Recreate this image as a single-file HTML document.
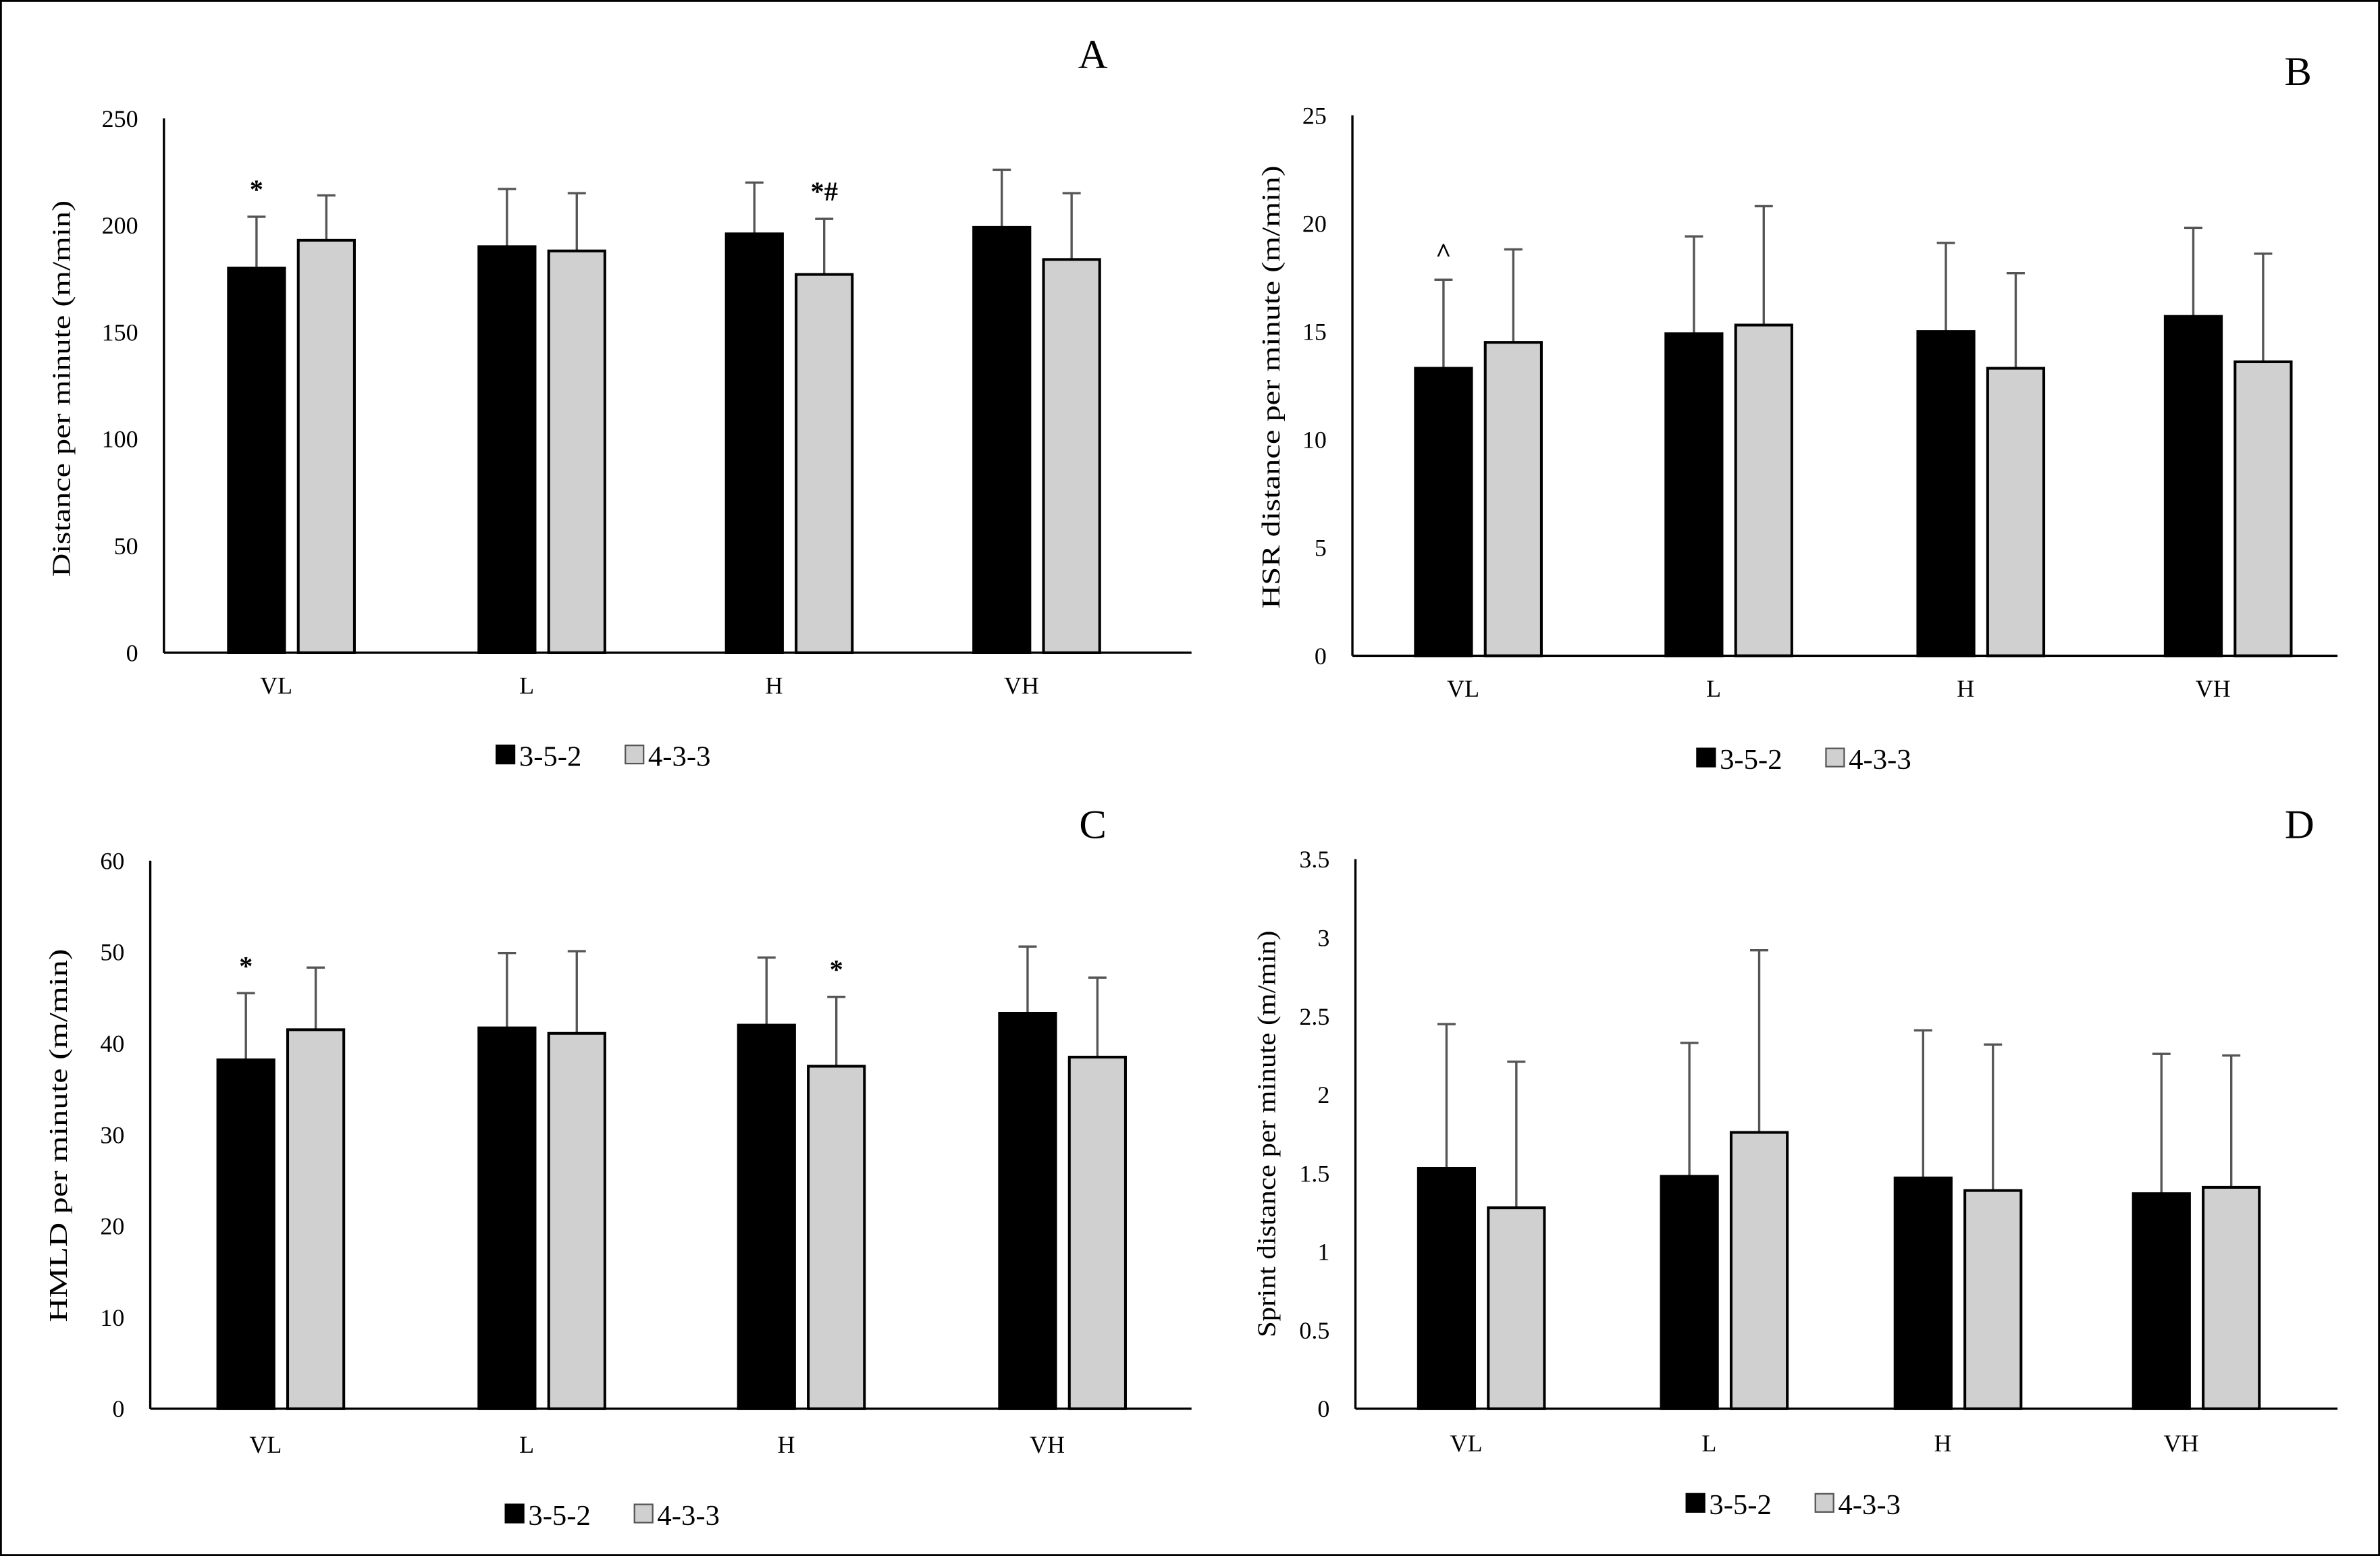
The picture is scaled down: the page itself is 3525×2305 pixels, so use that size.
<!DOCTYPE html>
<html><head><meta charset="utf-8"><style>
html,body{margin:0;padding:0;background:#fff}
svg{display:block}
text{font-family:"Liberation Serif",serif;fill:#000}
</style></head><body>
<svg id="fig" width="3525" height="2305" viewBox="0 0 1568 1025" preserveAspectRatio="none">
<rect x="0.5" y="0.5" width="1567" height="1024" fill="#fff" stroke="#000" stroke-width="1.5"/>
</svg>
<script>
const categories = ["VL","L","H","VH"];
const seriesNames = ["3-5-2","4-3-3"];
const aBlack = [180,190,196,199];
const aGray = [193,188,177,184];
const aBlackErr = [24,27,24,27];
const aGrayErr = [21,27,26,31];
const bBlack = [13.3,14.9,15.0,15.7];
const bGray = [14.5,15.3,13.3,13.6];
const bBlackErr = [4.1,4.5,4.1,4.1];
const bGrayErr = [4.3,5.5,4.4,5.0];
const cBlack = [38.2,41.7,42.0,43.3];
const cGray = [41.5,41.1,37.5,38.5];
const cBlackErr = [7.3,8.2,7.4,7.3];
const cGrayErr = [6.8,9.0,7.6,8.7];
const dBlack = [1.53,1.48,1.47,1.37];
const dGray = [1.28,1.76,1.39,1.41];
const dBlackErr = [0.92,0.85,0.94,0.89];
const dGrayErr = [0.93,1.16,0.93,0.84];
const aTicks = [0,50,100,150,200,250];
const bTicks = [0,5,10,15,20,25];
const cTicks = [0,10,20,30,40,50,60];
const dTicks = [0,0.5,1,1.5,2,2.5,3,3.5];
const aMarks = [["*",""],["",""],["","*#"],["",""]];
const bMarks = [["^",""],["",""],["",""],["",""]];
const cMarks = [["*",""],["",""],["","*"],["",""]];
const dMarks = [["",""],["",""],["",""],["",""]];

const NS="http://www.w3.org/2000/svg";
const svg=document.getElementById('fig');
function el(tag,attrs,parent,txt){const e=document.createElementNS(NS,tag);for(const k in attrs)e.setAttribute(k,attrs[k]);if(txt!==undefined)e.textContent=txt;(parent||svg).appendChild(e);return e;}

const panels=[
 {id:"a",letter:"A",lx:720,ly:45,x0:108,x1:785,y0:430,y1:78,max:250,ticks:aTicks,black:aBlack,gray:aGray,be:aBlackErr,ge:aGrayErr,marks:aMarks,title:"Distance per minute (m/min)",tx:46,ty:256,tl:248,centers:[192,357,520,683],legX:327,legY:498,labY:457},
 {id:"b",letter:"B",lx:1514,ly:56,x0:891,x1:1540,y0:432,y1:76,max:25,ticks:bTicks,black:bBlack,gray:bGray,be:bBlackErr,ge:bGrayErr,marks:bMarks,title:"HSR distance per minute (m/min)",tx:843,ty:255,tl:292,centers:[974,1139,1305,1468],legX:1118,legY:500,labY:459},
 {id:"c",letter:"C",lx:720,ly:552,x0:99,x1:785,y0:928,y1:567,max:60,ticks:cTicks,black:cBlack,gray:cGray,be:cBlackErr,ge:cGrayErr,marks:cMarks,title:"HMLD per minute (m/min)",tx:44,ty:748,tl:246,centers:[185,357,528,700],legX:333,legY:998,labY:957},
 {id:"d",letter:"D",lx:1515,ly:552,x0:893,x1:1540,y0:928,y1:566,max:3.5,ticks:dTicks,black:dBlack,gray:dGray,be:dBlackErr,ge:dGrayErr,marks:dMarks,title:"Sprint distance per minute (m/min)",tx:840,ty:747,tl:268,centers:[976,1136,1290,1447],legX:1111,legY:991,labY:956}
];

panels.forEach(p=>{
 const g=el('g',{});
 
 
 const ys=v=>p.y0-(v/p.max)*(p.y0-p.y1);
 const lt=el('text',{x:p.lx,y:p.ly,'font-size':27,'text-anchor':'middle'},g,p.letter);
 
 
 p.ticks.forEach(t=>{
  const tl=el('text',{x:p.x0-17,y:ys(t)+5.5,'font-size':16,'text-anchor':'end'},g,String(t));
  
  
 });
 const yt=el('text',{x:0,y:0,'font-size':17,'text-anchor':'middle',textLength:p.tl,lengthAdjust:'spacingAndGlyphs',transform:`translate(${p.tx},${p.ty}) rotate(-90)`},g,p.title);
 
 
 const bw=37,gap=9;
 categories.forEach((c,i)=>{
  const cx=p.centers[i];
  const xs=[cx-gap/2-bw,cx+gap/2];
  const vals=[p.black[i],p.gray[i]],errs=[p.be[i],p.ge[i]];
  vals.forEach((v,s)=>{
   const top=ys(v+errs[s]),yv=ys(v);
   const ex=xs[s]+bw/2;
   const eb=el('line',{x1:ex,y1:top,x2:ex,y2:yv,stroke:'#555','stroke-width':1.5},g);
   
   
   const cap=el('line',{x1:ex-6,y1:top,x2:ex+6,y2:top,stroke:'#555','stroke-width':1.5},g);
   
   
   const r=el('rect',{x:xs[s],y:yv,width:bw,height:p.y0-yv,fill:s===0?'#000':'#d0d0d0',stroke:'#000','stroke-width':1.8},g);
   
   
   if(p.marks[i][s]){
    const m=el('text',{x:ex,y:top-12,'font-size':18,'font-weight':'bold','text-anchor':'middle','font-family':'Liberation Sans, sans-serif'},g,p.marks[i][s]);
    
    
   }
  });
  const cl=el('text',{x:cx-10,y:p.labY,'font-size':16,'text-anchor':'middle'},g,c);
  
  
 });
 const ya=el('line',{x1:p.x0,y1:p.y1,x2:p.x0,y2:p.y0,stroke:'#000','stroke-width':1.5},g);
 
 
 const xa=el('line',{x1:p.x0,y1:p.y0,x2:p.x1,y2:p.y0,stroke:'#000','stroke-width':1.5},g);
 
 
 seriesNames.forEach((n,s)=>{
  const lx=p.legX+s*85;
  const sq=el('rect',{x:lx,y:p.legY-7,width:12,height:12,fill:s===0?'#000':'#d0d0d0',stroke:s===0?'#000':'#555','stroke-width':1},g);
  
  
  const lt2=el('text',{x:lx+15,y:p.legY+6.5,'font-size':19,'font-family':'Liberation Sans, sans-serif'},g,n);
  
  
 });
});
</script>
</body></html>
